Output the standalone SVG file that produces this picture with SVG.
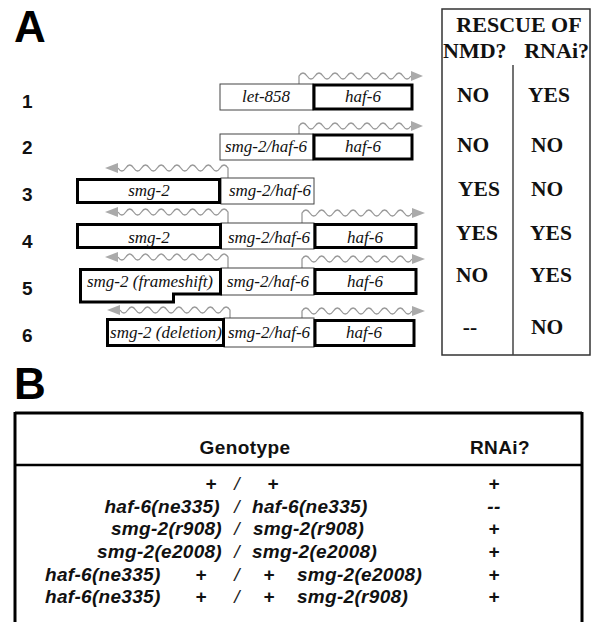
<svg xmlns="http://www.w3.org/2000/svg" width="591" height="622" viewBox="0 0 591 622">
<style>
.thin{fill:#fff;stroke:#444;stroke-width:1}
.thick{fill:#fff;stroke:#000;stroke-width:3}
.gt{font-family:"Liberation Serif","Times New Roman",serif;font-style:italic;font-size:17px;fill:#111;text-anchor:middle}
.num{font-family:"Liberation Sans",Arial,sans-serif;font-weight:bold;font-size:19px;fill:#111}
.big{font-family:"Liberation Sans",Arial,sans-serif;font-weight:bold;font-size:44px;fill:#000}
.tb{font-family:"Liberation Serif","Times New Roman",serif;font-weight:bold;font-size:21.5px;fill:#111}
.th{font-family:"Liberation Serif","Times New Roman",serif;font-weight:bold;font-size:22px;fill:#111}
.mid{text-anchor:middle}
.wave{fill:none;stroke:#999;stroke-width:1.3}
.head{fill:#aaa}
.hb{font-family:"Liberation Sans",Arial,sans-serif;font-weight:bold;font-size:19px;letter-spacing:0.4px;fill:#111}
.gb{font-family:"Liberation Sans",Arial,sans-serif;font-weight:bold;font-style:italic;font-size:19px;letter-spacing:0.3px;fill:#111}
.sl{font-family:"Liberation Sans",Arial,sans-serif;font-style:italic;font-size:19px;fill:#222;text-anchor:middle}
.line{stroke:#000;fill:none}
</style>
<rect width="591" height="622" fill="#fff"/>
<text class="big" x="14" y="42">A</text>
<text class="big" x="14" y="399">B</text>

<g id="row-numbers">
<text class="num" x="22" y="108">1</text>
<text class="num" x="22" y="154">2</text>
<text class="num" x="22" y="201">3</text>
<text class="num" x="22" y="248">4</text>
<text class="num" x="22" y="295">5</text>
<text class="num" x="22" y="342">6</text>
</g>

<g id="connectors">
<path class="wave" d="M299,96 V76 q4,-6 8,0 t8,0 t8,0 t8,0 t8,0 t8,0 t8,0 t8,0 t8,0 t8,0 t8,0 t8,0 t8,0 t8,0"/>
<polygon class="head" points="411,71 423,76 411,81"/>
<path class="wave" d="M299,146 V126 q4,-6 8,0 t8,0 t8,0 t8,0 t8,0 t8,0 t8,0 t8,0 t8,0 t8,0 t8,0 t8,0 t8,0 t8,0"/>
<polygon class="head" points="411,121 423,126 411,131"/>
<path class="wave" d="M302,235 V213 q3.93,-6 7.86,0 t7.86,0 t7.86,0 t7.86,0 t7.86,0 t7.86,0 t7.86,0 t7.86,0 t7.86,0 t7.86,0 t7.86,0 t7.86,0 t7.86,0 t7.86,0"/>
<polygon class="head" points="412,208 425,213 412,218"/>
<path class="wave" d="M302,280 V259 q3.93,-6 7.86,0 t7.86,0 t7.86,0 t7.86,0 t7.86,0 t7.86,0 t7.86,0 t7.86,0 t7.86,0 t7.86,0 t7.86,0 t7.86,0 t7.86,0 t7.86,0"/>
<polygon class="head" points="412,254 425,259 412,264"/>
<path class="wave" d="M302,331 V311 q3.93,-6 7.86,0 t7.86,0 t7.86,0 t7.86,0 t7.86,0 t7.86,0 t7.86,0 t7.86,0 t7.86,0 t7.86,0 t7.86,0 t7.86,0 t7.86,0 t7.86,0"/>
<polygon class="head" points="412,306 425,311 412,316"/>
<path class="wave" d="M228,190 V168 q-3.93,-6 -7.86,0 t-7.86,0 t-7.86,0 t-7.86,0 t-7.86,0 t-7.86,0 t-7.86,0 t-7.86,0 t-7.86,0 t-7.86,0 t-7.86,0 t-7.86,0 t-7.86,0 t-7.86,0"/>
<polygon class="head" points="118,163 105,168 118,173"/>
<path class="wave" d="M228,235 V212 q-3.93,-6 -7.86,0 t-7.86,0 t-7.86,0 t-7.86,0 t-7.86,0 t-7.86,0 t-7.86,0 t-7.86,0 t-7.86,0 t-7.86,0 t-7.86,0 t-7.86,0 t-7.86,0 t-7.86,0"/>
<polygon class="head" points="118,207 105,212 118,217"/>
<path class="wave" d="M228,280 V257 q-3.93,-6 -7.86,0 t-7.86,0 t-7.86,0 t-7.86,0 t-7.86,0 t-7.86,0 t-7.86,0 t-7.86,0 t-7.86,0 t-7.86,0 t-7.86,0 t-7.86,0 t-7.86,0 t-7.86,0"/>
<polygon class="head" points="118,252 105,257 118,262"/>
<path class="wave" d="M230,330 V310 q-3.93,-6 -7.86,0 t-7.86,0 t-7.86,0 t-7.86,0 t-7.86,0 t-7.86,0 t-7.86,0 t-7.86,0 t-7.86,0 t-7.86,0 t-7.86,0 t-7.86,0 t-7.86,0 t-7.86,0"/>
<polygon class="head" points="120,305 107,310 120,315"/>
</g>

<g id="row1">
<rect class="thin" x="220" y="84" width="93" height="26"/>
<text class="gt" x="266" y="102">let-858</text>
<rect class="thick" x="314" y="85" width="98" height="24"/>
<text class="gt" x="363" y="102">haf-6</text>
</g>
<g id="row2">
<rect class="thin" x="220" y="134" width="93" height="26"/>
<text class="gt" x="266" y="152">smg-2/haf-6</text>
<rect class="thick" x="314" y="135" width="98" height="24"/>
<text class="gt" x="363" y="152">haf-6</text>
</g>
<g id="row3">
<rect class="thin" x="221" y="178" width="93" height="26"/>
<text class="gt" x="270" y="196">smg-2/haf-6</text>
<rect class="thick" x="77.5" y="179.5" width="142" height="23"/>
<text class="gt" x="149" y="196">smg-2</text>
</g>
<g id="row4">
<rect class="thin" x="221" y="223" width="93" height="26"/>
<text class="gt" x="269" y="243">smg-2/haf-6</text>
<rect class="thick" x="77.5" y="224.5" width="143" height="23"/>
<text class="gt" x="149" y="243">smg-2</text>
<rect class="thick" x="315" y="224.5" width="101" height="23"/>
<text class="gt" x="365" y="243">haf-6</text>
</g>
<g id="row5">
<rect class="thin" x="221" y="268" width="93" height="27"/>
<text class="gt" x="268" y="287">smg-2/haf-6</text>
<polygon class="thick" points="80.5,269.5 220.5,269.5 220.5,294 173.5,294 173.5,302 80.5,302"/>
<text class="gt" x="150" y="287">smg-2 (frameshift)</text>
<rect class="thick" x="315" y="269.5" width="101" height="24"/>
<text class="gt" x="365" y="287">haf-6</text>
</g>
<g id="row6">
<rect class="thin" x="224" y="318" width="90" height="29"/>
<text class="gt" x="269" y="338">smg-2/haf-6</text>
<rect class="thick" x="107.5" y="319.5" width="116" height="26"/>
<text class="gt" x="166" y="338">smg-2 (deletion)</text>
<rect class="thick" x="315" y="320.5" width="99" height="25"/>
<text class="gt" x="364" y="338">haf-6</text>
</g>

<g id="rescue-table">
<rect x="442" y="9" width="148" height="346" fill="none" stroke="#333" stroke-width="1.5"/>
<line x1="513" y1="65" x2="513" y2="355" stroke="#444" stroke-width="1.5"/>
<text class="th mid" x="519" y="32">RESCUE OF</text>
<text class="th" x="443" y="58">NMD?</text>
<text class="th" x="589" y="58" text-anchor="end">RNAi?</text>
<text class="tb mid" x="473" y="102">NO</text><text class="tb mid" x="549" y="102">YES</text>
<text class="tb mid" x="473" y="152">NO</text><text class="tb mid" x="547" y="152">NO</text>
<text class="tb mid" x="479" y="196">YES</text><text class="tb mid" x="547" y="196">NO</text>
<text class="tb mid" x="477" y="240">YES</text><text class="tb mid" x="551" y="240">YES</text>
<text class="tb mid" x="472" y="282">NO</text><text class="tb mid" x="551" y="282">YES</text>
<text class="tb mid" x="470" y="334">--</text><text class="tb mid" x="547" y="334">NO</text>
</g>

<g id="genotype-table">
<line class="line" x1="15" y1="413" x2="582" y2="413" stroke-width="3"/>
<line class="line" x1="15" y1="412" x2="15" y2="622" stroke-width="3"/>
<line class="line" x1="582" y1="412" x2="582" y2="622" stroke-width="3"/>
<line class="line" x1="15" y1="465" x2="582" y2="465" stroke-width="2.5"/>
<text class="hb mid" x="245" y="454">Genotype</text>
<text class="hb mid" x="500" y="454">RNAi?</text>

<text class="gb mid" x="211" y="490">+</text><text class="sl" x="237" y="490">/</text><text class="gb mid" x="273" y="490">+</text>
<text class="gb mid" x="494" y="490">+</text>

<text class="gb" x="220" y="513" text-anchor="end">haf-6(ne335)</text><text class="sl" x="237" y="513">/</text><text class="gb" x="252" y="513">haf-6(ne335)</text>
<text class="gb mid" x="494" y="513">--</text>

<text class="gb" x="222" y="535" text-anchor="end">smg-2(r908)</text><text class="sl" x="237" y="535">/</text><text class="gb" x="253" y="535">smg-2(r908)</text>
<text class="gb mid" x="494" y="535">+</text>

<text class="gb" x="222" y="558" text-anchor="end">smg-2(e2008)</text><text class="sl" x="237" y="558">/</text><text class="gb" x="252" y="558">smg-2(e2008)</text>
<text class="gb mid" x="494" y="558">+</text>

<text class="gb" x="45" y="581">haf-6(ne335)</text><text class="gb mid" x="201" y="581">+</text><text class="sl" x="237" y="581">/</text><text class="gb mid" x="269" y="581">+</text><text class="gb" x="297" y="581">smg-2(e2008)</text>
<text class="gb mid" x="494" y="581">+</text>

<text class="gb" x="45" y="603">haf-6(ne335)</text><text class="gb mid" x="201" y="603">+</text><text class="sl" x="237" y="603">/</text><text class="gb mid" x="269" y="603">+</text><text class="gb" x="297" y="603">smg-2(r908)</text>
<text class="gb mid" x="494" y="603">+</text>
</g>
</svg>
